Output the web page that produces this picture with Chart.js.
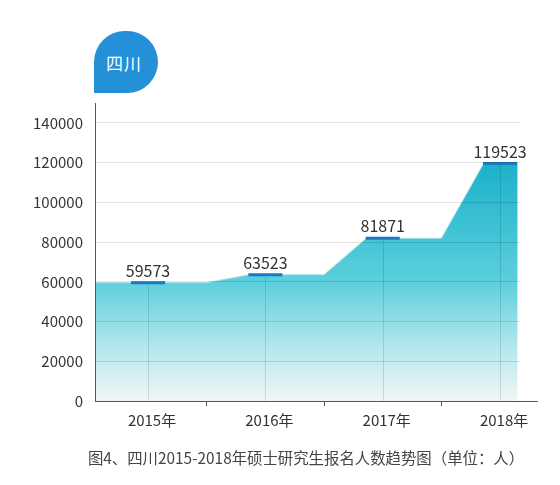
<!DOCTYPE html>
<html>
<head>
<meta charset="utf-8">
<script src="https://cdn.jsdelivr.net/npm/chart.js@4/dist/chart.umd.min.js"></script>
<style>
  body { margin: 0; background: #fff; font-family: "Noto Sans CJK SC", "Noto Sans", sans-serif; }
  #wrap { position: relative; width: 560px; height: 485px; overflow: hidden; }
  #chart { position: absolute; left: 0; top: 0; }
  #badge {
    position: absolute; left: 94px; top: 31px; width: 64px; height: 62px;
    background: #2490d8; border-radius: 32px 32px 32px 0;
    color: #fff; font-size: 17px; display: flex; align-items: center; justify-content: center;
    padding-right: 4px; box-sizing: border-box; letter-spacing: 1px;
  }
  #caption {
    position: absolute; left: 50px; width: 512px; top: 446px;
    text-align: center; font-size: 15.4px; color: #444; white-space: nowrap;
  }
</style>
</head>
<body>
<div id="wrap">
  <canvas id="chart" width="560" height="485"></canvas>
  <div id="badge">四川</div>
  <div id="caption">图4、四川2015-2018年硕士研究生报名人数趋势图（单位：人）</div>
</div>
<script>
// values
const years = ['2015年', '2016年', '2017年', '2018年'];
const applicants = [59573, 63523, 81871, 119523];
const yTicks = [0, 20000, 40000, 60000, 80000, 100000, 120000, 140000];

// shape of the plateaus around each year (in category units)
const X_MIN = -0.452, X_MAX = 3.17;
const RISE_BEFORE = 0.14, HOLD_AFTER = 0.5, LAST_HOLD = 0.15;
const MARK_HALF = 0.145;

const last = years.length - 1;
const areaPoints = [];
applicants.forEach((v, i) => {
  const start = i === 0 ? X_MIN : i - RISE_BEFORE;
  const end = i === last ? i + LAST_HOLD : i + HOLD_AFTER;
  areaPoints.push({x: start, y: v}, {x: end, y: v});
});

const markPoints = [];
applicants.forEach((v, i) => {
  markPoints.push({x: i - MARK_HALF, y: v}, {x: i + MARK_HALF, y: v}, {x: i + 0.3, y: null});
});

Chart.defaults.font.family = '"Noto Sans CJK SC", "Noto Sans", sans-serif';
Chart.defaults.color = '#333';

const extras = {
  id: 'extras',
  afterDatasetsDraw(chart) {
    const {ctx, scales: {x, y}} = chart;
    ctx.save();
    // drop lines under each year
    ctx.strokeStyle = 'rgba(0,0,0,0.12)';
    ctx.lineWidth = 1;
    applicants.forEach((v, i) => {
      const px = Math.round(x.getPixelForValue(i)) + 0.5;
      ctx.beginPath();
      ctx.moveTo(px, y.getPixelForValue(v) + 2);
      ctx.lineTo(px, y.getPixelForValue(0));
      ctx.stroke();
    });
    // value labels
    ctx.fillStyle = '#333';
    ctx.font = '16px "Noto Sans CJK SC", "Noto Sans", sans-serif';
    ctx.textAlign = 'center';
    ctx.textBaseline = 'alphabetic';
    applicants.forEach((v, i) => {
      ctx.fillText(String(v), x.getPixelForValue(i), y.getPixelForValue(v) - 6);
    });
    ctx.restore();
  },
  afterDraw(chart) {
    const {ctx, chartArea} = chart;
    ctx.save();
    ctx.strokeStyle = '#555';
    ctx.lineWidth = 1;
    ctx.beginPath();
    ctx.moveTo(chartArea.left, chartArea.bottom + 0.5);
    ctx.lineTo(chartArea.right + 18, chartArea.bottom + 0.5);
    ctx.stroke();
    ctx.restore();
  }
};

function areaFill(context) {
  const chart = context.chart;
  const {ctx, chartArea, scales} = chart;
  if (!chartArea) return 'rgba(30,180,200,0.6)';
  const top = scales.y.getPixelForValue(120000);
  const bottom = scales.y.getPixelForValue(0);
  const g = ctx.createLinearGradient(0, top, 0, bottom);
  g.addColorStop(0, '#1bb1ca');
  g.addColorStop(0.5, '#5ccfdc');
  g.addColorStop(0.76, '#b0e6ec');
  g.addColorStop(1, '#f1f6f5');
  return g;
}

new Chart(document.getElementById('chart'), {
  type: 'line',
  data: {
    datasets: [
      {
        data: areaPoints,
        order: 2,
        fill: 'origin',
        backgroundColor: areaFill,
        borderColor: '#a6e0e8',
        borderWidth: 1,
        pointRadius: 0,
        tension: 0
      },
      {
        data: markPoints,
        order: 1,
        fill: false,
        borderColor: '#1b7ac3',
        borderWidth: 3,
        pointRadius: 0,
        spanGaps: false
      }
    ]
  },
  options: {
    responsive: false,
    animation: false,
    layout: {padding: {top: 103, right: 40, bottom: 0, left: 0}},
    plugins: {legend: {display: false}, tooltip: {enabled: false}},
    scales: {
      x: {
        type: 'linear',
        min: X_MIN,
        max: X_MAX,
        afterBuildTicks(scale) { scale.ticks = years.map((_, i) => ({value: i})); },
        afterFit(scale) { scale.height = 84; },
        grid: {
          drawOnChartArea: false,
          offset: true,
          drawTicks: true,
          tickLength: 5,
          tickColor: '#555'
        },
        border: {display: false},
        ticks: {
          padding: 5,
          labelOffset: 4,
          font: {size: 15},
          color: '#333',
          callback: (v) => years[v]
        }
      },
      y: {
        min: 0,
        max: 150000,
        afterBuildTicks(scale) { scale.ticks = yTicks.map(v => ({value: v})); },
        afterFit(scale) { scale.width = 95; },
        grid: {color: 'rgba(0,0,0,0.12)', drawTicks: false, z: 1},
        border: {display: true, color: '#555', width: 1, z: 2},
        ticks: {padding: 12, font: {size: 15}, color: '#333', callback: (v) => String(v)}
      }
    }
  },
  plugins: [extras]
});
</script>
</body>
</html>
